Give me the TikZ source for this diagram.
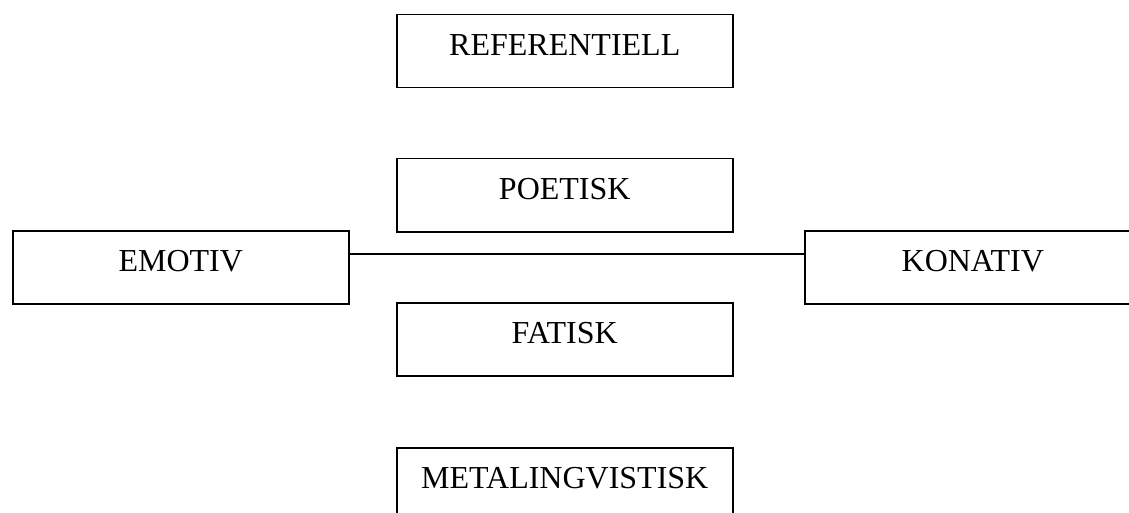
\documentclass[tikz,border=0pt]{standalone}
\usepackage{fontspec}
\setmainfont{Liberation Serif}
\begin{document}
\begin{tikzpicture}[x=1pt,y=-1pt,
  fnbox/.style={draw, line width=1.5pt, anchor=north west, inner sep=0pt,
    minimum width=336pt, text height=41pt, text depth=32pt,
    font=\fontsize{32}{36}\selectfont},
  link/.style={line width=1.5pt}]
\useasboundingbox (0,0) rectangle (1129,513);
\clip (0,0) rectangle (1129,513);
\node[fnbox] (referentiell) at (396,14)  {REFERENTIELL};
\node[fnbox] (poetisk)      at (396,158) {POETISK};
\node[fnbox] (emotiv)       at (12,230)  {EMOTIV};
\node[fnbox] (konativ)      at (804,230) {KONATIV};
\node[fnbox] (fatisk)       at (396,302) {FATISK};
\node[fnbox] (meta)         at (396,447) {METALINGVISTISK};
\draw[link] ([yshift=-24pt]emotiv.north east) -- ([yshift=-24pt]konativ.north west);
\end{tikzpicture}
\end{document}
